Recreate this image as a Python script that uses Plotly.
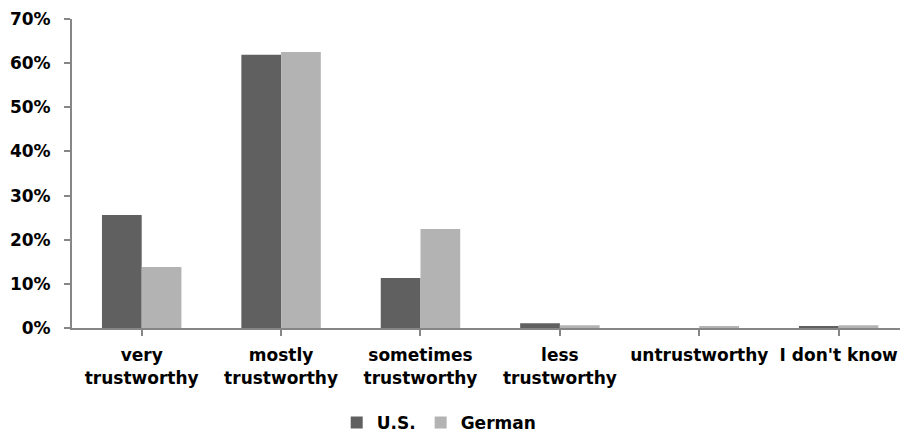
import plotly.graph_objects as go

categories = ["very<br>trustworthy", "mostly<br>trustworthy", "sometimes<br>trustworthy",
              "less<br>trustworthy", "untrustworthy", "I don't know"]
us_values = [25.6, 61.9, 11.3, 1.1, 0.0, 0.3]
german_values = [13.8, 62.5, 22.4, 0.6, 0.4, 0.6]
y_ticks = [0, 10, 20, 30, 40, 50, 60, 70]
y_tick_labels = [f"{v}%" for v in y_ticks]

fig = go.Figure()
fig.add_trace(go.Bar(name="U.S.", x=list(range(len(categories))), y=us_values,
                     marker=dict(color="#606060", line=dict(width=0))))
fig.add_trace(go.Bar(name="German", x=list(range(len(categories))), y=german_values,
                     marker=dict(color="#b3b3b3", line=dict(width=0))))

font = dict(family="DejaVu Sans, sans-serif", size=17, color="#000000", weight="bold")

fig.update_layout(
    width=900, height=437,
    margin=dict(l=72, r=0, t=19, b=109, autoexpand=False),
    paper_bgcolor="white", plot_bgcolor="white",
    barmode="group", bargap=0.43, bargroupgap=0,
    font=font,
    showlegend=True,
    legend=dict(orientation="h", xref="container", x=0.488, xanchor="center",
                y=-0.307, yanchor="middle",
                font=dict(family="DejaVu Sans, sans-serif", size=17, color="#000", weight="bold"),
                itemwidth=30, traceorder="normal", tracegroupgap=0),
    xaxis=dict(
        tickmode="array", tickvals=list(range(len(categories))), ticktext=categories,
        range=[-0.5, 5.44],
        showline=True, linecolor="#868686", linewidth=2,
        ticks="outside", ticklen=6, tickcolor="#868686", tickwidth=2,
        showgrid=False, zeroline=False,
        tickfont=font, ticklabelstandoff=5, automargin=False,
    ),
    yaxis=dict(
        range=[0, 70], tickvals=y_ticks, ticktext=y_tick_labels,
        showline=True, linecolor="#868686", linewidth=2,
        ticks="outside", ticklen=6, tickcolor="#868686", tickwidth=2,
        showgrid=False, zeroline=False,
        tickfont=font, ticklabelstandoff=10, automargin=False,
    ),
)

# ticks at category boundaries
fig.update_xaxes(tickson="boundaries")

fig.write_html("out.html", config={"displayModeBar": False},
               post_script="document.body.style.margin='0';document.body.style.overflow='hidden';")
